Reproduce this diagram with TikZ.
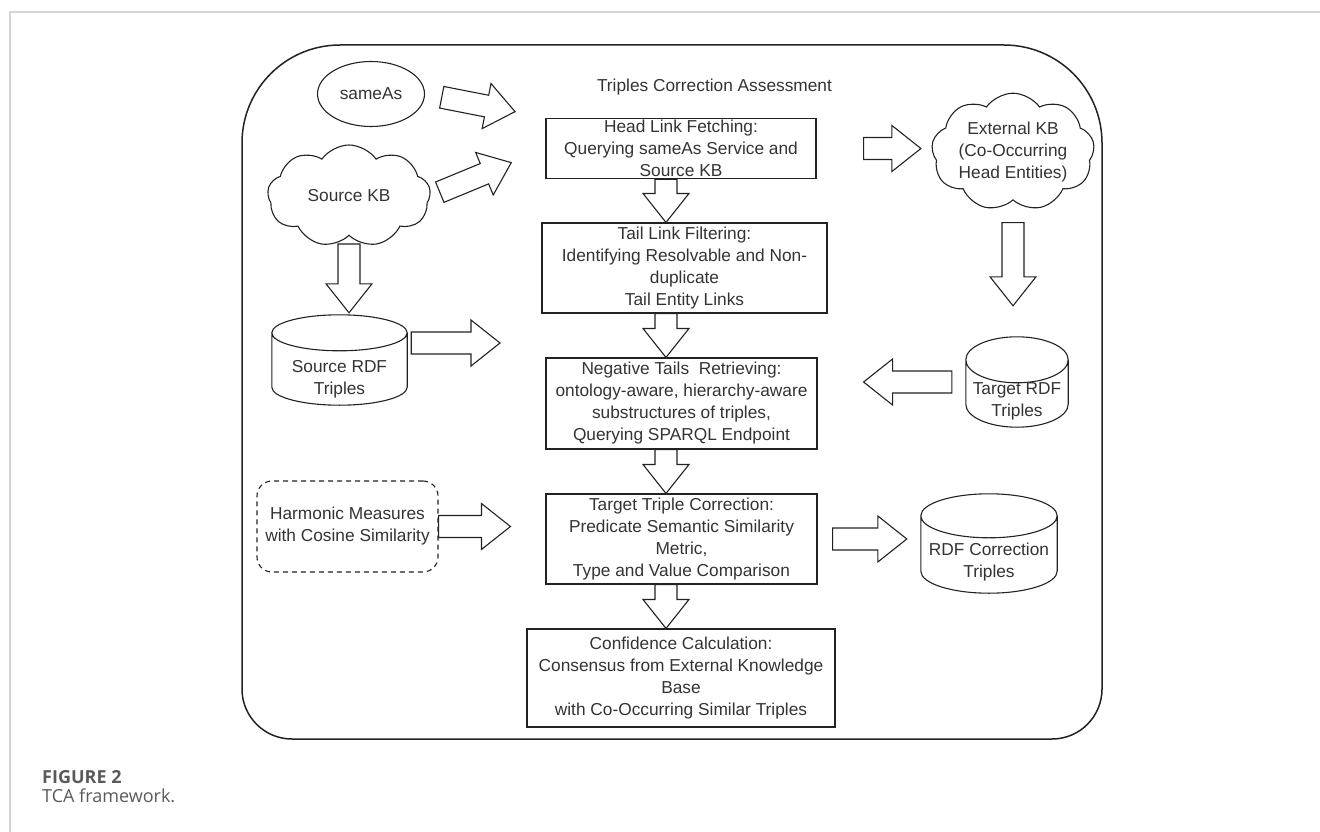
\documentclass[tikz,border=0pt]{standalone}
\usepackage{fontspec}
\setmainfont{Liberation Sans}
\newfontfamily\capfont{Open Sans}
\usepackage{tikz}
\usetikzlibrary{calc}
\usetikzlibrary{shapes}
\usetikzlibrary{shapes.geometric}
\usetikzlibrary{shapes.symbols}
\definecolor{linec}{HTML}{222222}
\definecolor{txtc}{HTML}{333333}
\definecolor{pagec}{HTML}{D4D4D4}
\definecolor{capc}{HTML}{5A5A5A}
\newcommand{\boxfont}{\fontsize{17.3}{22}\selectfont}
\def\fsw{11pt}
\def\fhw{23pt}
\def\fhl{29pt}
\tikzstyle{stage} = [draw=linec, line width=1.1pt, rectangle, align=center, text=txtc, font=\boxfont, inner sep=2pt]
\tikzstyle{kb} = [draw=linec, line width=1.1pt, cloud, cloud puffs=9, cloud puff arc=110, aspect=1.6, align=center, text=txtc, font=\boxfont, inner sep=0pt]
\tikzstyle{store} = [draw=none, rectangle, inner sep=0pt]
\tikzstyle{storetext} = [text=txtc, font=\boxfont, align=center, yshift=-19pt]
\tikzstyle{storeline} = [draw=linec, line width=1.1pt, fill=white]
\tikzstyle{frame} = [draw=linec, line width=1.5pt]
\tikzset{
  gap/.code 2 args={\def\fga{#1}\def\fgb{#2}},
  fat/.style={draw=linec, line width=1.1pt, fill=white, gap={0pt}{0pt},
    to path={let \p1=(\tikztostart), \p2=(\tikztotarget),
      \n1={atan2(\y2-\y1,\x2-\x1)}, \n2={veclen(\x2-\x1,\y2-\y1)} in
      [shift={(\p1)}, rotate=\n1]
      (\fga,-\fsw) -- ({\n2-\fgb-\fhl},-\fsw) -- ({\n2-\fgb-\fhl},-\fhw)
      -- ({\n2-\fgb},0pt) -- ({\n2-\fgb-\fhl},\fhw) -- ({\n2-\fgb-\fhl},\fsw)
      -- (\fga,\fsw) -- cycle}},
}
% outline of a store node: #1 node, #2 half height of the end ellipse
\newcommand{\storeoutline}[2]{%
  \draw [storeline] let \p1=(#1.north west), \p2=(#1.south east), \n1={(\x2-\x1)/2} in
    (\x1,{\y1-#2}) -- (\x1,{\y2+#2}) arc[start angle=180, end angle=360, x radius=\n1, y radius=#2]
    -- (\x2,{\y1-#2}) arc[start angle=0, end angle=180, x radius=\n1, y radius=#2]
    arc[start angle=180, end angle=360, x radius=\n1, y radius=#2];}

\begin{document}
\begin{tikzpicture}[x=1pt, y=-1pt]
\useasboundingbox (0,0) rectangle (1320,832);
\draw [pagec, line width=1.5pt] (1320,12) -- (10,12) -- (10,832);
\draw [frame] (242,400) [rounded corners=98pt] |- (1102,45) -- (1102,400) [rounded corners=50pt] |- (242,739) -- cycle;

\node [draw=none, text=txtc, font=\boxfont] (title) at (714.5, 87) {Triples Correction Assessment};
\node [stage, minimum width=270, minimum height=59] (head) at (681, 148.5) {Head Link Fetching:\\Querying sameAs Service and\\Source KB};
\node [stage, minimum width=285, minimum height=90] (tail) at (684.5, 268) {Tail Link Filtering:\\Identifying Resolvable and Non-\\duplicate\\Tail Entity Links};
\node [stage, minimum width=271, minimum height=91] (neg) at (681.5, 403.5) {Negative Tails\ \ Retrieving:\\ontology-aware, hierarchy-aware\\substructures of triples,\\Querying SPARQL Endpoint};
\node [stage, minimum width=271, minimum height=90] (corr) at (681.5, 539) {Target Triple Correction:\\Predicate Semantic Similarity\\Metric,\\Type and Value Comparison};
\node [stage, minimum width=308, minimum height=98] (conf) at (681, 678) {Confidence Calculation:\\Consensus from External Knowledge\\Base\\with Co-Occurring Similar Triples};

\node [draw=linec, line width=1.1pt, ellipse, text=txtc, font=\boxfont, minimum width=107, minimum height=65] (sameas) at (371, 94) {sameAs};
\node [kb, minimum width=163, minimum height=102] (src) at (349, 196) {Source KB};
\node [kb, minimum width=163, minimum height=101] (ext) at (1013, 152) {External KB\\(Co-Occurring\\Head Entities)};
\node [store, minimum width=135, minimum height=90] (srdf) at (339.5, 360) {};
\node [store, minimum width=102, minimum height=90] (trg) at (1017, 382) {};
\node [store, minimum width=136, minimum height=99] (rdfc) at (989, 543.5) {};
\storeoutline{srdf}{18pt}
\storeoutline{trg}{23pt}
\storeoutline{rdfc}{22pt}
\node [storetext] (srdftext) at (srdf) {Source RDF\\Triples};
\node [storetext] (trgtext) at (trg) {Target RDF\\Triples};
\node [storetext] (rdfctext) at (rdfc) {RDF Correction\\Triples};
\node [draw=linec, line width=1.1pt, dashed, dash pattern=on 5pt off 4pt, rounded corners=15pt, align=center, text=txtc, font=\boxfont, minimum width=181, minimum height=91] (harm) at (347.5, 526.5) {Harmonic Measures\\with Cosine Similarity};

\coordinate (spine) at (666, 0);
\coordinate (srdftip) at (500, 343);

\draw [fat, gap={17pt}{31pt}] (sameas.east) to (head.north west);
\draw [fat, gap={10pt}{37pt}] (src.east) to (head.west);
\draw [fat, gap={47pt}{11pt}] (head.east) to (head.east -| ext.west);
\draw [fat, gap={22pt}{31pt}] (ext.south) to (ext.south |- trg.north);
\draw [fat, gap={14pt}{46pt}] (trg.west) to (trg.west -| neg.east);
\draw [fat, gap={8pt}{2pt}] (src.south) to (src.south |- srdf.north);
\draw [fat, gap={4pt}{0pt}] (srdf.east |- srdftip) to (srdftip);
\draw [fat, gap={0pt}{35pt}] (harm.east) to (harm.east -| corr.west);
\draw [fat, gap={15pt}{14pt}] (corr.east) to (corr.east -| rdfc.west);
\draw [fat] (head.south -| spine) to (tail.north -| spine);
\draw [fat] (tail.south -| spine) to (neg.north -| spine);
\draw [fat] (neg.south -| spine) to (corr.north -| spine);
\draw [fat] (corr.south -| spine) to (conf.north -| spine);

\node [anchor=base west, inner sep=0, font=\capfont\bfseries\fontsize{18}{20}\selectfont, text=capc] (fig) at (42, 783) {FIGURE 2};
\node [anchor=base west, inner sep=0, font=\capfont\fontsize{18}{20}\selectfont, text=capc] (cap) at (42, 802) {TCA framework.};
\end{tikzpicture}
\end{document}
